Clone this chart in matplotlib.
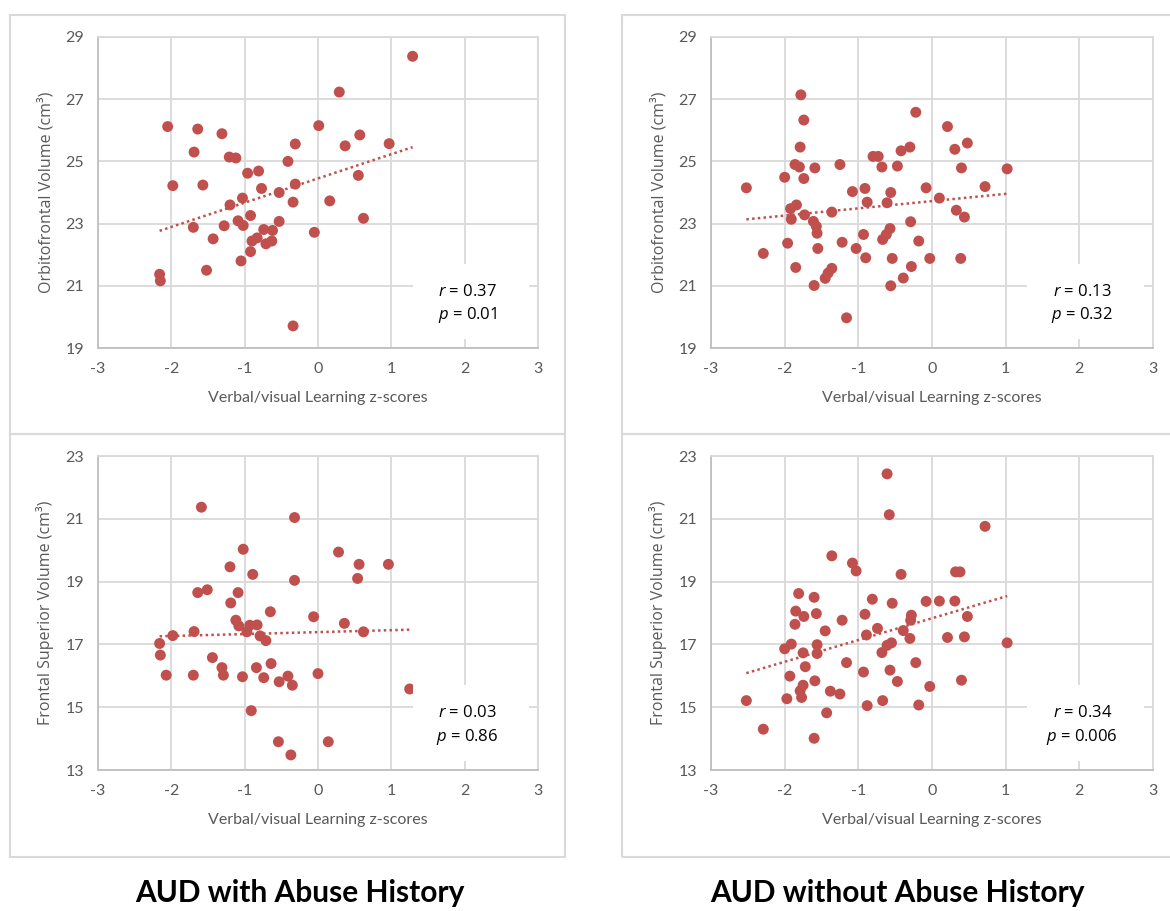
import numpy as np
import matplotlib.pyplot as plt
from matplotlib.patches import Rectangle

# AUD with abuse history - orbitofrontal
ofc_abuse_x = [1.29, 0.29, -2.05, -1.64, -1.31, 0.01, -1.69, 0.57, -0.31, 0.37, 0.97, -1.21, -1.12,
               -0.41, -0.96, -0.81, -1.98, -1.57, 0.55, -0.77, -0.53, -0.31, -1.03, -1.20, -0.34, 0.16,
               -0.92, -1.09, -1.02, -1.28, -1.70, -0.53, 0.62, -0.74, -0.62, -0.83, -0.90, -0.71, -0.63,
               -0.05, -1.43, -0.92, -1.05, -1.52, -2.16, -2.15, -0.34]
ofc_abuse_y = [28.38, 27.23, 26.12, 26.04, 25.89, 26.15, 25.30, 25.85, 25.56, 25.50, 25.57, 25.14, 25.11,
               25.00, 24.62, 24.69, 24.22, 24.24, 24.55, 24.13, 24.00, 24.27, 23.82, 23.60, 23.69, 23.73,
               23.26, 23.09, 22.94, 22.93, 22.88, 23.07, 23.17, 22.81, 22.78, 22.54, 22.44, 22.35, 22.44,
               22.72, 22.51, 22.10, 21.80, 21.50, 21.37, 21.16, 19.71]

# AUD without abuse history - orbitofrontal
ofc_noabuse_x = [-1.78, -1.74, -0.22, 0.21, -1.79, 0.48, 0.31, -0.30, -0.42, -0.80, -0.73, -1.86, -1.80,
                 -1.59, -1.25, -0.68, -0.47, 0.40, 1.02, -2.00, -1.74, -2.52, -1.08, -0.91, -0.56, -0.08,
                 0.72, -0.88, -0.61, 0.10, -1.84, -1.92, -1.91, -1.73, -1.36, 0.33, 0.44, -1.61, -1.57,
                 -1.56, -0.29, -0.93, -0.57, -0.62, -0.67, -1.96, -1.22, -0.18, -2.29, -1.55, -1.03, -0.90,
                 -0.54, -0.03, 0.39, -1.85, -1.36, -1.41, -1.45, -0.28, -0.39, -1.60, -0.56, -1.16]
ofc_noabuse_y = [27.14, 26.33, 26.58, 26.12, 25.46, 25.59, 25.39, 25.46, 25.34, 25.16, 25.16, 24.90, 24.82,
                 24.79, 24.90, 24.82, 24.85, 24.79, 24.76, 24.49, 24.45, 24.15, 24.03, 24.13, 24.00, 24.15,
                 24.19, 23.69, 23.67, 23.82, 23.60, 23.48, 23.14, 23.28, 23.37, 23.43, 23.21, 23.07, 22.91,
                 22.69, 23.06, 22.65, 22.84, 22.65, 22.49, 22.37, 22.40, 22.44, 22.04, 22.20, 22.20, 21.90,
                 21.88, 21.88, 21.88, 21.59, 21.56, 21.41, 21.24, 21.62, 21.25, 21.01, 21.00, 19.97]

# AUD with abuse history - frontal superior
fs_abuse_x = [-1.59, -0.32, -1.02, 0.28, 0.56, 0.96, -1.20, -0.89, 0.54, -0.32, -1.64, -1.51, -1.09,
              -1.19, -0.65, -0.06, -1.12, -1.08, -0.93, -0.83, -0.97, 0.36, -1.69, -1.98, -0.79, -0.71,
              0.62, -2.16, -2.15, -1.44, -1.31, -1.29, -0.64, -0.84, -2.07, -1.70, -1.03, -0.74, -0.41,
              -0.53, -0.35, 0.00, 1.25, -0.91, -0.54, 0.14, -0.37]
fs_abuse_y = [21.37, 21.04, 20.03, 19.94, 19.55, 19.55, 19.47, 19.23, 19.10, 19.04, 18.65, 18.74, 18.65,
              18.32, 18.04, 17.88, 17.77, 17.59, 17.61, 17.62, 17.40, 17.67, 17.41, 17.28, 17.27, 17.12,
              17.40, 17.03, 16.66, 16.58, 16.26, 16.02, 16.39, 16.26, 16.02, 16.02, 15.97, 15.94, 15.99,
              15.81, 15.70, 16.07, 15.58, 14.89, 13.90, 13.90, 13.48]

# AUD without abuse history - frontal superior
fs_noabuse_x = [-0.61, -0.58, 0.72, -1.36, -1.08, -1.03, -0.42, 0.32, 0.38, -1.81, -1.60, -0.81, -0.54,
                -0.08, 0.10, 0.31, -1.85, -1.74, -1.57, -1.86, -1.22, -0.91, -0.28, -0.29, 0.48, -1.45,
                -0.74, -0.39, -0.89, -0.30, 0.21, 0.44, 1.02, -1.91, -2.00, -1.56, -1.75, -1.56, -0.61,
                -0.55, -0.68, -1.16, -0.22, -1.72, -1.93, -0.93, -0.57, -1.59, -0.47, 0.40, -0.03, -1.75,
                -1.79, -1.77, -1.38, -1.25, -1.97, -2.52, -0.67, -0.88, -0.18, -1.43, -2.29, -1.60]
fs_noabuse_y = [22.43, 21.13, 20.76, 19.82, 19.59, 19.34, 19.23, 19.31, 19.31, 18.62, 18.50, 18.44, 18.31,
                18.37, 18.38, 18.38, 18.06, 17.89, 17.98, 17.64, 17.77, 17.96, 17.93, 17.77, 17.89, 17.43,
                17.51, 17.44, 17.30, 17.19, 17.22, 17.24, 17.05, 17.01, 16.86, 16.99, 16.73, 16.71, 16.97,
                17.05, 16.74, 16.42, 16.42, 16.29, 15.99, 16.12, 16.18, 15.84, 15.82, 15.86, 15.66, 15.70,
                15.52, 15.31, 15.51, 15.42, 15.27, 15.21, 15.21, 15.05, 15.07, 14.82, 14.30, 14.01]

stats = [("0.37", "0.01"), ("0.13", "0.32"), ("0.03", "0.86"), ("0.34", "0.006")]
ylabels = ["Orbitofrontal Volume (cm\u00b3)", "Frontal Superior Volume (cm\u00b3)"]
group_titles = ["AUD with Abuse History", "AUD without Abuse History"]

RED = "#C0504D"
GRAY_TXT = "#595959"
GRID = "#D9D9D9"
LIGHT = ["Lato", "DejaVu Sans"]
OPEN = ["Open Sans", "DejaVu Sans"]

plt.rcParams["axes.unicode_minus"] = False
plt.rcParams["mathtext.fontset"] = "custom"
plt.rcParams["mathtext.it"] = "Open Sans:italic"

fig = plt.figure(figsize=(11.7, 9.11), dpi=100)

# panel frames (pixel coords -> figure fraction)
W, H = 1170, 911
for x0, x1 in [(10, 565), (622, 1175)]:
    for y0, y1 in [(15, 434), (434, 857)]:
        fig.patches.append(Rectangle((x0 / W, 1 - y1 / H), (x1 - x0) / W, (y1 - y0) / H,
                                     transform=fig.transFigure, fill=False,
                                     edgecolor=GRID, lw=1.5, zorder=0))

panels = [
    (ofc_abuse_x, ofc_abuse_y, (98, 538, 37, 348), (19, 29), ylabels[0]),
    (ofc_noabuse_x, ofc_noabuse_y, (711, 1153, 37, 348), (19, 29), ylabels[0]),
    (fs_abuse_x, fs_abuse_y, (98, 538, 456, 770), (13, 23), ylabels[1]),
    (fs_noabuse_x, fs_noabuse_y, (711, 1153, 456, 770), (13, 23), ylabels[1]),
]

for i, (xs, ys, (px0, px1, py0, py1), ylim, ylab) in enumerate(panels):
    ax = fig.add_axes([px0 / W, 1 - py1 / H, (px1 - px0) / W, (py1 - py0) / H])
    xs = np.array(xs)
    ys = np.array(ys)
    ax.scatter(xs, ys, s=62, color=RED, edgecolors="none", zorder=3)

    # linear trend line
    m, b = np.polyfit(xs, ys, 1)
    tx = np.array([xs.min(), xs.max()])
    ax.plot(tx, m * tx + b, ls=(0, (1, 1.3)), lw=1.8, color=RED, zorder=4)

    ax.set_xlim(-3, 3)
    ax.set_ylim(*ylim)
    ax.set_xticks(range(-3, 4))
    ax.set_yticks(range(ylim[0], ylim[1] + 1, 2))
    ax.grid(True, color=GRID, lw=1.3, zorder=0)
    ax.set_axisbelow(True)
    for s in ax.spines.values():
        s.set_color(GRID)
        s.set_linewidth(1.3)
    ax.spines["left"].set_color("#BFBFBF")
    ax.spines["bottom"].set_color("#BFBFBF")
    ax.tick_params(length=0, pad=10, labelsize=11.5, colors=GRAY_TXT)
    for lab in ax.get_xticklabels() + ax.get_yticklabels():
        lab.set_family(LIGHT)
    ax.set_xlabel("Verbal/visual Learning z-scores", fontsize=11.5, color=GRAY_TXT,
                  family=LIGHT, labelpad=11)
    ax.set_ylabel(ylab, fontsize=11.5, color=GRAY_TXT, family=OPEN, labelpad=8)

    # stats box over the lower-right corner
    ax.add_patch(Rectangle((0.715, 0.028), 0.265, 0.242, transform=ax.transAxes,
                           facecolor="white", edgecolor="none", zorder=5))
    r, p = stats[i]
    ax.text(0.84, 0.18, r"$r$ = " + r, transform=ax.transAxes, ha="center", va="center",
            fontsize=12, family=OPEN, zorder=6)
    ax.text(0.84, 0.105, r"$p$ = " + p, transform=ax.transAxes, ha="center", va="center",
            fontsize=12, family=OPEN, zorder=6)

for cx, t in zip([300, 897], group_titles):
    fig.text(cx / W, 1 - 893 / H, t, ha="center", va="center", fontsize=21.5,
             fontweight="bold", family=LIGHT)

fig.savefig("out.png", dpi=100)
